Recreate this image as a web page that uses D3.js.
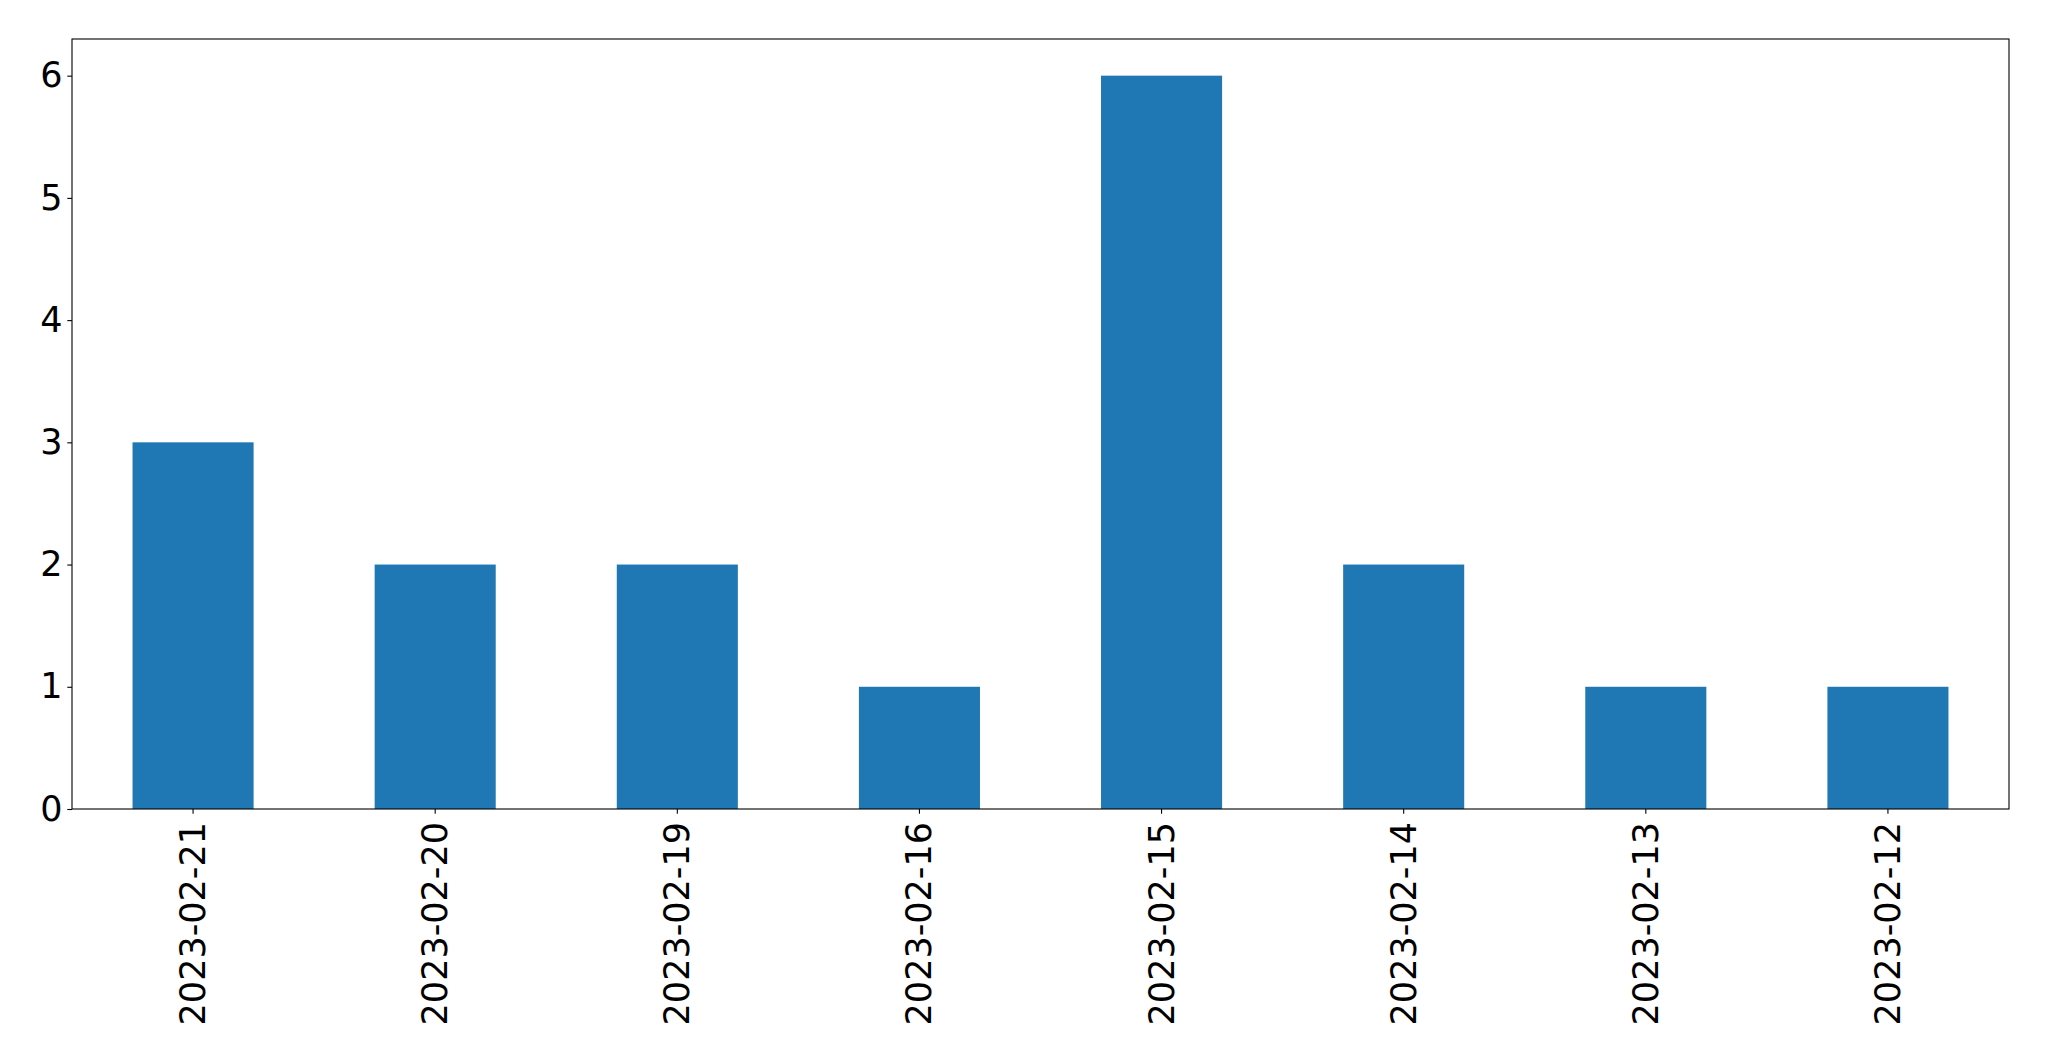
<!DOCTYPE html>
<html><head><meta charset="utf-8">
<script src="https://cdn.jsdelivr.net/npm/d3@7"></script>
<style>html,body{margin:0;padding:0;background:#fff;}svg{display:block;}</style>
</head><body>
<script>
const categories = ["2023-02-21","2023-02-20","2023-02-19","2023-02-16","2023-02-15","2023-02-14","2023-02-13","2023-02-12"];
const values = [3, 2, 2, 1, 6, 2, 1, 1];
const yTicks = [0, 1, 2, 3, 4, 5, 6];

const W = 2049, H = 1061;
const m = {left: 72, top: 39, right: 2049 - 2009, bottom: 1061 - 809};
const svg = d3.select("body").append("svg").attr("width", W).attr("height", H);
const g = svg.append("g").attr("transform", `translate(${m.left},${m.top})`);
const iw = W - m.left - m.right, ih = H - m.top - m.bottom;

const x = d3.scaleBand().domain(categories).range([0, iw]).paddingInner(0.5).paddingOuter(0.25);
const y = d3.scaleLinear().domain([0, 6.3]).range([ih, 0]);

g.selectAll("rect.bar").data(values).join("rect")
  .attr("class", "bar")
  .attr("x", (d, i) => x(categories[i]))
  .attr("width", x.bandwidth())
  .attr("y", d => y(d))
  .attr("height", d => y(0) - y(d))
  .attr("fill", "#1f77b4");

const font = "'DejaVu Sans', sans-serif";
const fs = "35px";
const yAxis = g.append("g").call(d3.axisLeft(y).tickValues(yTicks).tickFormat(d3.format("d")).tickSize(4.7).tickPadding(4.7));
yAxis.select(".domain").remove();
yAxis.selectAll("text").attr("font-family", font).attr("font-size", fs).attr("fill", "#000");
yAxis.selectAll("line").attr("stroke", "#000").attr("stroke-width", 1.1);

const xAxis = g.append("g").attr("transform", `translate(0,${ih})`).call(d3.axisBottom(x).tickSize(4.7).tickPadding(0));
xAxis.select(".domain").remove();
xAxis.selectAll("line").attr("stroke", "#000").attr("stroke-width", 1.1);
xAxis.selectAll("text")
  .attr("font-family", font).attr("font-size", fs).attr("fill", "#000")
  .attr("y", 0).attr("dy", null)
  .attr("text-anchor", "end")
  .attr("transform", "translate(0,13) rotate(-90)")
  .attr("dominant-baseline", "central");

g.append("rect").attr("x", 0).attr("y", 0).attr("width", iw).attr("height", ih)
  .attr("fill", "none").attr("stroke", "#000").attr("stroke-width", 1.1);
</script>
</body></html>
